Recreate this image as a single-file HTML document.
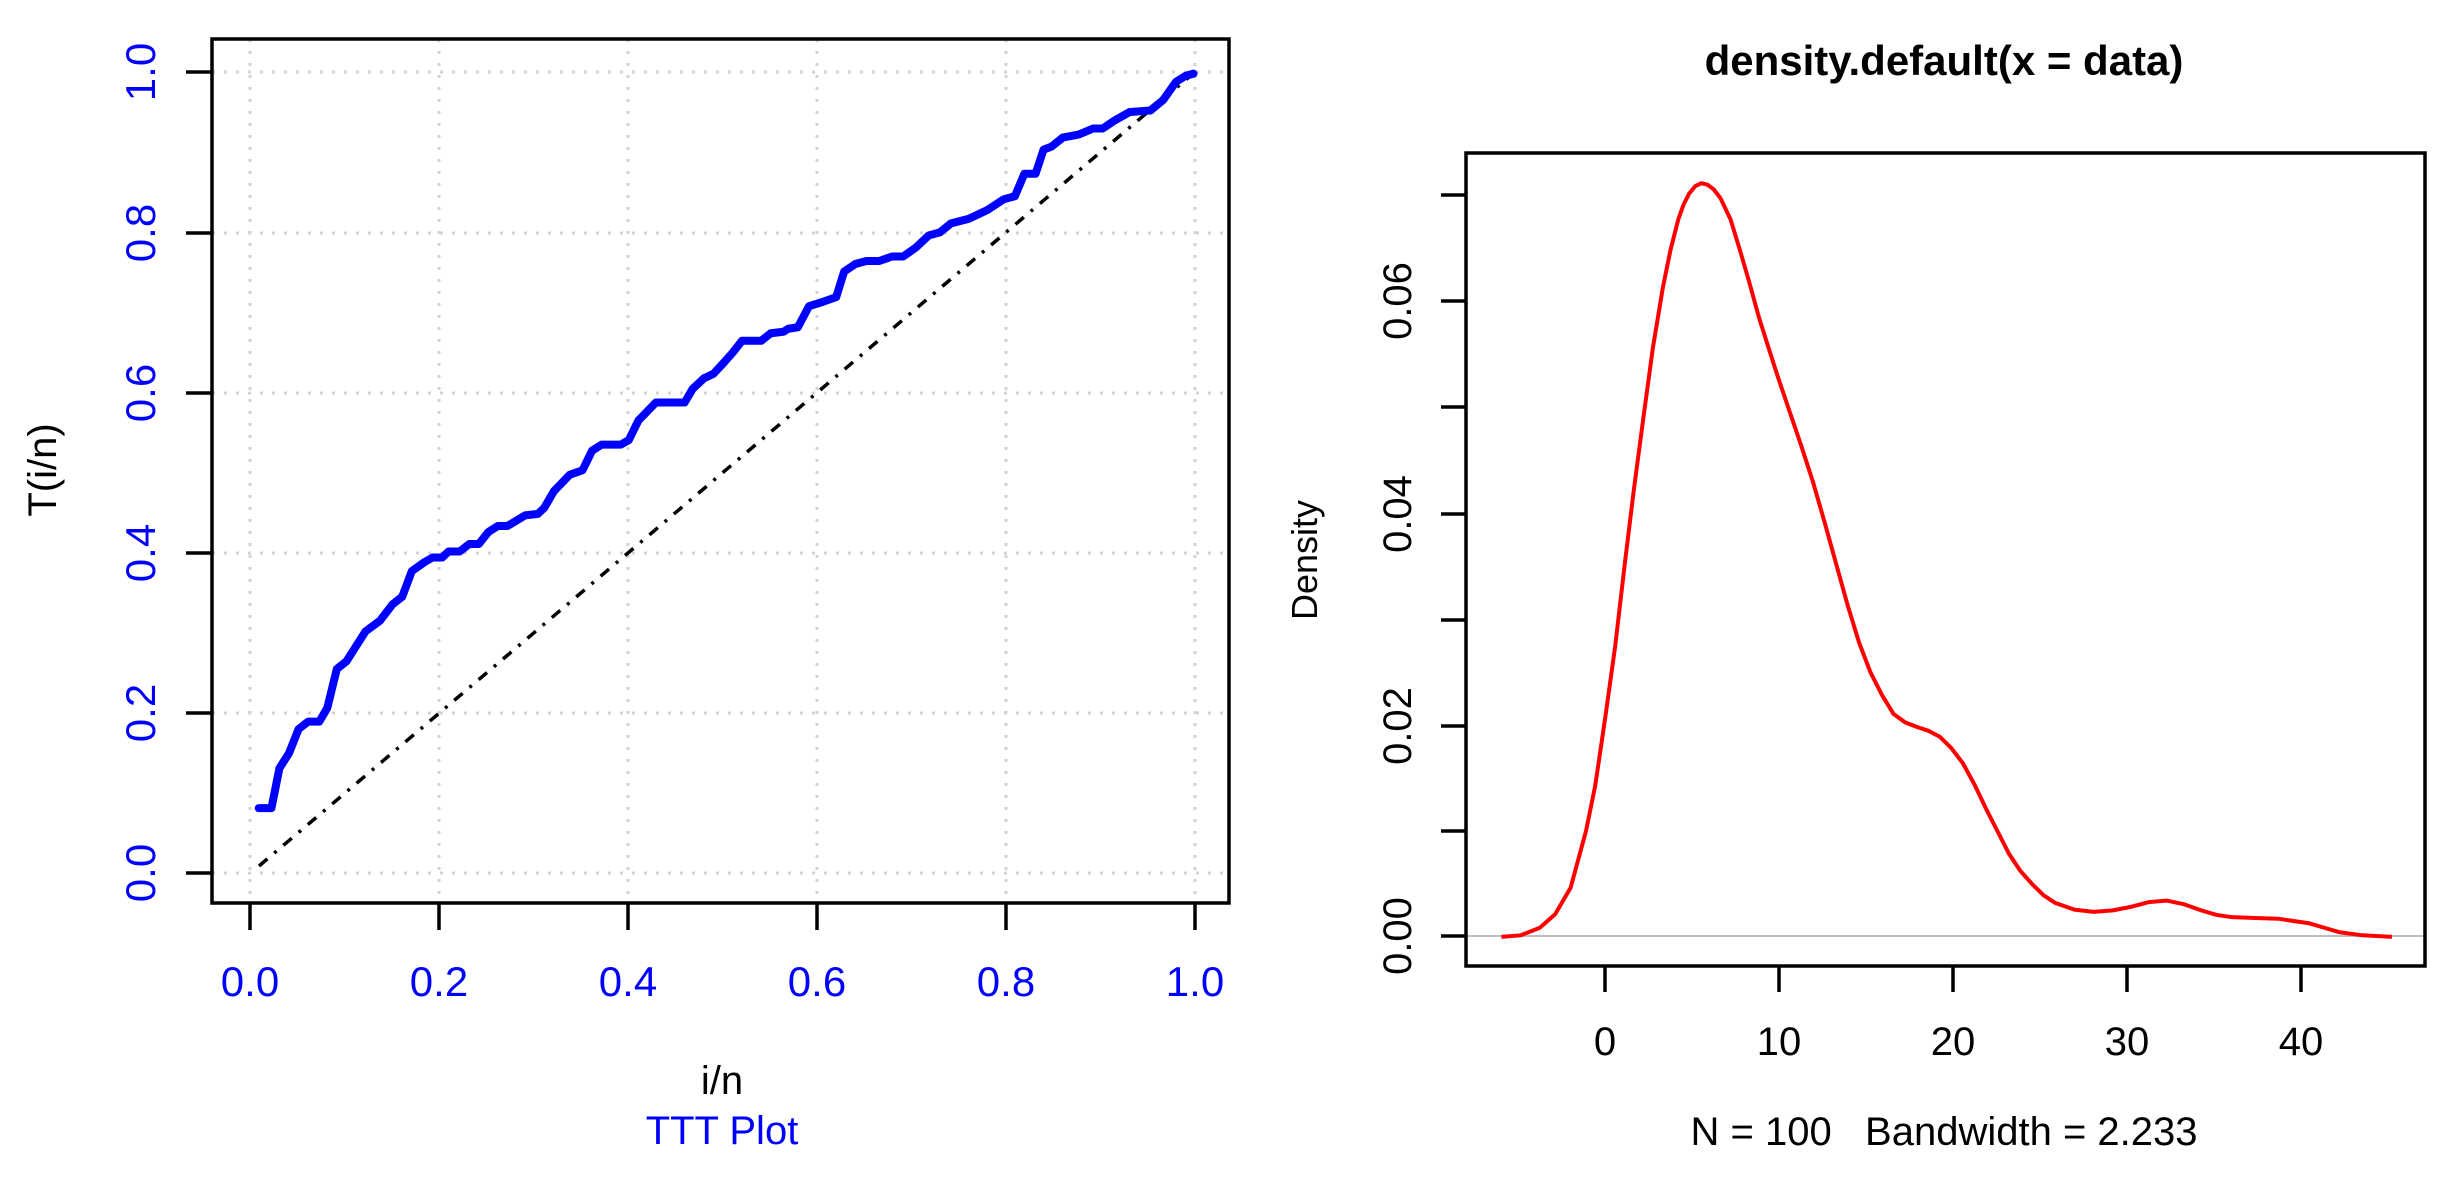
<!DOCTYPE html>
<html><head><meta charset="utf-8"><style>
html,body{margin:0;padding:0;background:#fff;}
svg{display:block;}
text{font-family:"Liberation Sans",Arial,sans-serif;white-space:pre;}
</style></head><body>
<svg width="2450" height="1183" viewBox="0 0 2450 1183" xmlns="http://www.w3.org/2000/svg">
<rect width="2450" height="1183" fill="#fff"/>
<!-- LEFT PLOT -->
<g stroke="#d3d3d3" stroke-width="3" stroke-dasharray="3,9" fill="none">
<line x1="250" y1="39" x2="250" y2="903"/><line x1="439" y1="39" x2="439" y2="903"/><line x1="628" y1="39" x2="628" y2="903"/><line x1="817" y1="39" x2="817" y2="903"/><line x1="1006" y1="39" x2="1006" y2="903"/><line x1="1195" y1="39" x2="1195" y2="903"/>
<line x1="212" y1="873" x2="1229" y2="873"/><line x1="212" y1="713" x2="1229" y2="713"/><line x1="212" y1="553" x2="1229" y2="553"/><line x1="212" y1="393" x2="1229" y2="393"/><line x1="212" y1="233" x2="1229" y2="233"/><line x1="212" y1="72" x2="1229" y2="72"/>
</g>
<line x1="259" y1="866" x2="1195" y2="72" stroke="#000" stroke-width="3.5" stroke-dasharray="11,9,3,9" fill="none"/>
<g transform="matrix(0.79764,0,0,0.75262,1.83,2.12)">
<polyline fill="none" stroke="#0000ff" stroke-width="8" vector-effect="non-scaling-stroke" stroke-linejoin="round" stroke-linecap="round" points="322,1071 338,1071 348,1018 360,998 372,966 384,956 398,956 408,938 420,886 432,876 456,836 474,822 490,800 502,790 514,756 530,744 540,738 552,738 560,730 574,730 586,720 598,720 610,704 622,696 634,696 656,682 672,680 680,672 692,650 712,628 728,622 740,596 752,588 776,588 786,582 798,556 820,532 856,532 866,514 880,500 892,494 906,478 916,466 928,450 952,450 964,440 980,438 986,434 998,432 1012,404 1030,398 1046,392 1056,358 1070,348 1084,344 1100,344 1116,338 1130,338 1146,326 1162,310 1176,306 1190,294 1212,288 1236,276 1256,262 1270,258 1282,228 1296,228 1306,196 1316,192 1330,180 1350,176 1368,168 1380,168 1394,158 1414,146 1440,144 1456,130 1472,106 1484,98 1494,95"/>
</g>
<rect x="212" y="39" width="1017" height="864" fill="none" stroke="#000" stroke-width="3.5"/>
<g stroke="#000" stroke-width="3.5">
<line x1="250" y1="903" x2="250" y2="930"/><line x1="439" y1="903" x2="439" y2="930"/><line x1="628" y1="903" x2="628" y2="930"/><line x1="817" y1="903" x2="817" y2="930"/><line x1="1006" y1="903" x2="1006" y2="930"/><line x1="1195" y1="903" x2="1195" y2="930"/>
<line x1="186" y1="873" x2="212" y2="873"/><line x1="186" y1="713" x2="212" y2="713"/><line x1="186" y1="553" x2="212" y2="553"/><line x1="186" y1="393" x2="212" y2="393"/><line x1="186" y1="233" x2="212" y2="233"/><line x1="186" y1="72" x2="212" y2="72"/>
</g>
<g fill="#0000ff" font-size="42" text-anchor="middle">
<text x="250" y="996">0.0</text><text x="439" y="996">0.2</text><text x="628" y="996">0.4</text><text x="817" y="996">0.6</text><text x="1006" y="996">0.8</text><text x="1195" y="996">1.0</text>
<text transform="translate(155,873) rotate(-90)">0.0</text>
<text transform="translate(155,713) rotate(-90)">0.2</text>
<text transform="translate(155,553) rotate(-90)">0.4</text>
<text transform="translate(155,393) rotate(-90)">0.6</text>
<text transform="translate(155,233) rotate(-90)">0.8</text>
<text transform="translate(155,72) rotate(-90)">1.0</text>
<text x="722" y="1144" font-size="40">TTT Plot</text>
</g>
<text x="722" y="1094" font-size="40" text-anchor="middle" fill="#000">i/n</text>
<text transform="translate(56,470) rotate(-90)" font-size="40" text-anchor="middle" fill="#000">T(i/n)</text>

<!-- RIGHT PLOT -->
<text x="1944" y="75" font-size="42" font-weight="bold" text-anchor="middle">density.default(x = data)</text>
<line x1="1466" y1="936" x2="2425" y2="936" stroke="#bebebe" stroke-width="2"/>
<g transform="matrix(0.76905,0,0,0.75512,1247.6,0.47)">
<polyline fill="none" stroke="#ff0000" stroke-width="4" vector-effect="non-scaling-stroke" stroke-linejoin="round" points="330,1240 355,1238 380,1228 400,1210 420,1175 440,1100 452,1040 465,950 478,855 490,750 502,650 515,550 527,460 540,380 550,330 560,290 567,270 574,256 582,246 590,242 598,244 606,250 615,262 628,290 640,330 652,372 665,420 678,462 690,500 705,545 720,590 735,637 750,690 765,745 780,800 795,850 810,890 825,920 840,945 855,956 870,962 885,967 900,975 915,990 930,1010 945,1038 960,1070 975,1100 990,1130 1005,1153 1020,1170 1035,1185 1050,1195 1075,1204 1100,1207 1125,1205 1150,1200 1172,1194 1195,1192 1218,1197 1240,1205 1260,1211 1280,1214 1310,1215 1340,1216 1360,1219 1380,1222 1400,1228 1420,1234 1450,1238 1488,1240"/>
</g>
<rect x="1466" y="153" width="959" height="813" fill="none" stroke="#000" stroke-width="3.5"/>
<g stroke="#000" stroke-width="3.5">
<line x1="1605" y1="966" x2="1605" y2="992"/><line x1="1779" y1="966" x2="1779" y2="992"/><line x1="1953" y1="966" x2="1953" y2="992"/><line x1="2127" y1="966" x2="2127" y2="992"/><line x1="2301" y1="966" x2="2301" y2="992"/>
<line x1="1441" y1="195" x2="1466" y2="195"/><line x1="1441" y1="301" x2="1466" y2="301"/><line x1="1441" y1="407" x2="1466" y2="407"/><line x1="1441" y1="514" x2="1466" y2="514"/><line x1="1441" y1="620" x2="1466" y2="620"/><line x1="1441" y1="726" x2="1466" y2="726"/><line x1="1441" y1="831" x2="1466" y2="831"/><line x1="1441" y1="936" x2="1466" y2="936"/>
</g>
<g fill="#000" font-size="40" text-anchor="middle">
<text x="1605" y="1055">0</text><text x="1779" y="1055">10</text><text x="1953" y="1055">20</text><text x="2127" y="1055">30</text><text x="2301" y="1055">40</text>
<text transform="translate(1411,936) rotate(-90)">0.00</text>
<text transform="translate(1411,726) rotate(-90)">0.02</text>
<text transform="translate(1411,514) rotate(-90)">0.04</text>
<text transform="translate(1411,301) rotate(-90)">0.06</text>
<text x="1944" y="1145">N = 100   Bandwidth = 2.233</text>
<text transform="translate(1317,560) rotate(-90)" font-size="36">Density</text>
</g>
</svg>
</body></html>
